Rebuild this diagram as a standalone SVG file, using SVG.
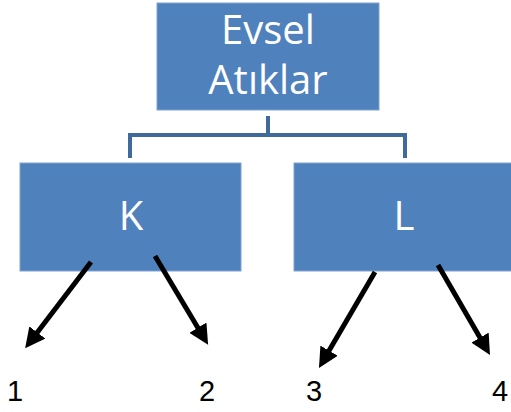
<svg xmlns="http://www.w3.org/2000/svg" width="511" height="412" viewBox="0 0 511 412">
<defs>
<style>
.box{fill:#4f81bd;stroke:#7fa3d0;stroke-width:1}
.t{font-family:"Open Sans",sans-serif;font-size:40px;fill:#fff;text-anchor:middle}
.n{font-family:"Liberation Sans",Arial,sans-serif;font-size:29px;fill:#000}
.c{fill:none;stroke:#3f6a9c;stroke-width:4}
.a{stroke:#000;stroke-width:5;marker-end:url(#ah)}
</style>
<marker id="ah" viewBox="0 0 10 10" refX="6" refY="5" markerWidth="4" markerHeight="4" orient="auto" markerUnits="strokeWidth">
<path d="M0,0 L10,5 L0,10 Z" fill="#000"/>
</marker>
</defs>
<g id="connectors">
<path class="c" d="M268,116 V135 M130,158 V135 H405 V158"/>
</g>
<g id="evsel">
<rect class="box" x="157" y="3" width="222" height="107"/>
<text class="t" x="268" y="44">Evsel</text>
<text class="t" x="268" y="94">Atıklar</text>
</g>
<g id="k">
<rect class="box" x="20" y="163" width="221" height="108"/>
<text class="t" x="131" y="230">K</text>
</g>
<g id="l">
<rect class="box" x="294" y="163" width="222" height="108"/>
<text class="t" x="404" y="230">L</text>
</g>
<g id="arrows">
<line class="a" x1="91" y1="262" x2="30" y2="342"/>
<line class="a" x1="155" y1="256" x2="204" y2="338"/>
<line class="a" x1="375" y1="272" x2="323" y2="361"/>
<line class="a" x1="438" y1="265" x2="486" y2="348"/>
</g>
<g id="labels">
<text class="n" x="7" y="401">1</text>
<text class="n" x="199" y="401">2</text>
<text class="n" x="306" y="401">3</text>
<text class="n" x="492" y="401">4</text>
</g>
</svg>
